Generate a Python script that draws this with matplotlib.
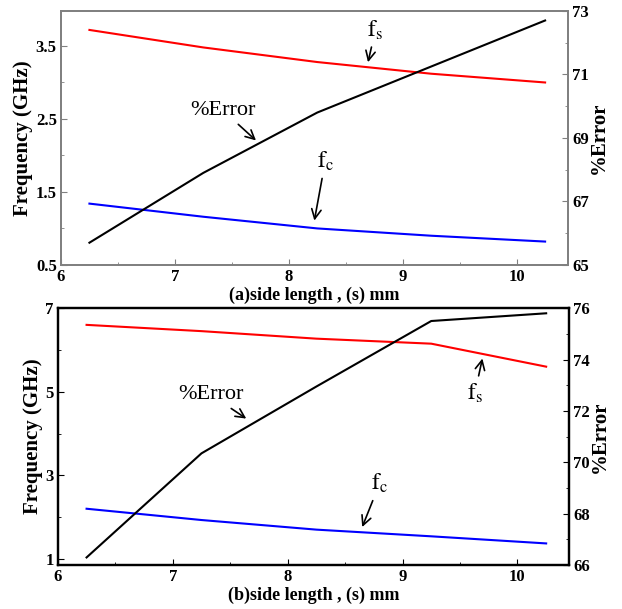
import numpy as np
import matplotlib
matplotlib.use("Agg")
import matplotlib.pyplot as plt

plt.rcParams['font.family'] = ['Liberation Serif', 'DejaVu Serif']
plt.rcParams['mathtext.fontset'] = 'stix'

# side length (s) in mm
side = [6.25, 7.25, 8.25, 9.25, 10.25]

# panel (a)
fs_a = [3.72, 3.48, 3.28, 3.12, 3.00]
fc_a = [1.34, 1.16, 1.00, 0.90, 0.82]
err_a = [65.7, 67.9, 69.8, 71.25, 72.7]

# panel (b)
fs_b = [6.60, 6.45, 6.27, 6.15, 5.60]
fc_b = [2.20, 1.93, 1.70, 1.54, 1.37]
err_b = [66.3, 70.35, 72.95, 75.5, 75.8]

fig = plt.figure(figsize=(6.22, 6.09), dpi=100)
ax_a = fig.add_axes([0.098, 0.565, 0.815, 0.417])
ax_b = fig.add_axes([0.093, 0.072, 0.822, 0.422])


def style(ax, ax2, spine_col, lw):
    for a in (ax, ax2):
        for s in a.spines.values():
            s.set_color(spine_col)
            s.set_linewidth(lw)
        a.tick_params(which='both', direction='in', color=spine_col,
                      labelsize=12, pad=3)
        a.tick_params(which='major', length=4)
        a.tick_params(which='minor', length=2.5)
        for t in a.get_xticklabels() + a.get_yticklabels():
            t.set_fontweight('bold')
    ax.set_xlim(6, 10.45)
    ax.set_xticks([6, 7, 8, 9, 10])
    ax.set_xticks(np.arange(6.5, 10.5, 1.0), minor=True)
    ax.set_ylabel("Frequency (GHz)", fontsize=15, fontweight='bold', labelpad=2)
    ax2.set_ylabel("%Error", fontsize=15, fontweight='bold', labelpad=0)


# ---- panel (a)
ax2_a = ax_a.twinx()
ax_a.plot(side, fs_a, color='red', lw=1.5)
ax_a.plot(side, fc_a, color='blue', lw=1.5)
ax2_a.plot(side, err_a, color='black', lw=1.5)
ax_a.set_ylim(0.5, 3.98)
ax_a.set_yticks([0.5, 1.5, 2.5, 3.5])
ax_a.set_yticklabels(['0.5', '1.5', '2.5', '3.5'])
ax_a.set_yticks([1.0, 2.0, 3.0], minor=True)
ax2_a.set_ylim(65, 73)
ax2_a.set_yticks([65, 67, 69, 71, 73])
ax2_a.set_yticks([66, 68, 70, 72], minor=True)
style(ax_a, ax2_a, '#808080', 1.3)
ax_a.set_xlabel("(a)side length , (s) mm", fontsize=13, fontweight='bold', labelpad=1)

arr = dict(arrowstyle='->', color='black', lw=1.2)
ax_a.annotate("%Error", xy=(7.73, 2.18), xytext=(7.42, 2.62), fontsize=16,
              ha='center', va='center', arrowprops=arr)
ax_a.annotate(r"$\mathrm{f_s}$", xy=(8.69, 3.24), xytext=(8.76, 3.72), fontsize=17,
              ha='center', va='center', arrowprops=arr)
ax_a.annotate(r"$\mathrm{f_c}$", xy=(8.22, 1.07), xytext=(8.32, 1.92), fontsize=17,
              ha='center', va='center', arrowprops=arr)

# ---- panel (b)
ax2_b = ax_b.twinx()
ax_b.plot(side, fs_b, color='red', lw=1.5)
ax_b.plot(side, fc_b, color='blue', lw=1.5)
ax2_b.plot(side, err_b, color='black', lw=1.5)
ax_b.set_ylim(0.85, 7)
ax_b.set_yticks([1, 3, 5, 7])
ax_b.set_yticks([2, 4, 6], minor=True)
ax2_b.set_ylim(66, 76)
ax2_b.set_yticks([66, 68, 70, 72, 74, 76])
ax2_b.set_yticks([67, 69, 71, 73, 75], minor=True)
style(ax_b, ax2_b, 'black', 1.6)
ax_b.set_xlabel("(b)side length , (s) mm", fontsize=13, fontweight='bold', labelpad=1)

ax_b.annotate("%Error", xy=(7.66, 4.32), xytext=(7.33, 4.93), fontsize=16,
              ha='center', va='center', arrowprops=arr)
ax_b.annotate(r"$\mathrm{f_s}$", xy=(9.70, 5.86), xytext=(9.63, 4.97), fontsize=17,
              ha='center', va='center', arrowprops=arr)
ax_b.annotate(r"$\mathrm{f_c}$", xy=(8.64, 1.70), xytext=(8.80, 2.80), fontsize=17,
              ha='center', va='center', arrowprops=arr)

fig.savefig("out.png", dpi=100)
